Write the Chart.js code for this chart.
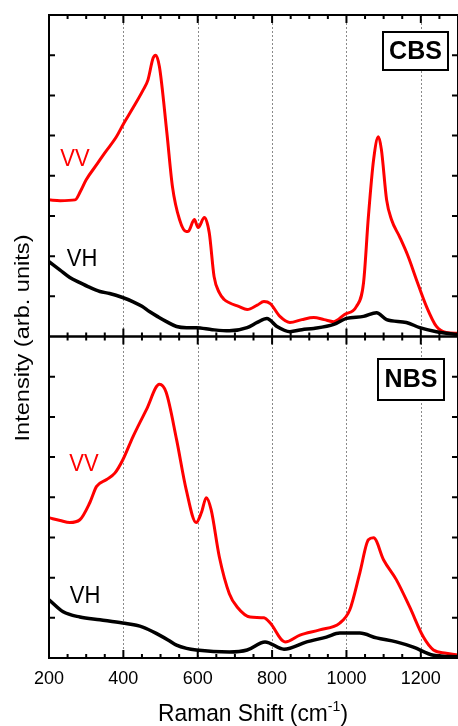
<!DOCTYPE html>
<html>
<head>
<meta charset="utf-8">
<script src="https://cdn.jsdelivr.net/npm/chart.js@4/dist/chart.umd.min.js"></script>
<style>
  html, body { margin: 0; padding: 0; background: #ffffff; overflow: hidden; }
  #wrap { position: relative; width: 458px; height: 726px; }
</style>
</head>
<body>
<div id="wrap"><canvas id="raman" width="458" height="726"></canvas></div>
<script>
(function () {

// -------------------------------------------------------------------------------------------------------
// data (intensity in arb. units, 0..8 per panel)

var cbsVVShift = [200, 230, 270, 285, 300, 330, 350, 380, 399, 426, 453, 466, 480, 487, 497, 517, 532, 551, 569, 575, 591, 601, 618, 631, 644, 658, 671, 685, 710, 733, 760, 778, 795, 821, 848, 880, 912, 940, 966, 995, 1027, 1046, 1059, 1073, 1086, 1094, 1108, 1121, 1143, 1166, 1188, 1215, 1242, 1268, 1300];
var cbsVV      = [3.40, 3.38, 3.40, 3.62, 3.90, 4.30, 4.57, 4.95, 5.27, 5.69, 6.13, 6.38, 6.93, 7.00, 6.71, 5.07, 3.73, 2.91, 2.61, 2.62, 2.91, 2.71, 2.96, 2.58, 1.49, 1.09, 0.92, 0.84, 0.75, 0.67, 0.78, 0.87, 0.82, 0.50, 0.35, 0.42, 0.47, 0.42, 0.37, 0.55, 0.75, 1.34, 2.98, 4.40, 4.97, 4.65, 3.40, 2.91, 2.48, 1.99, 1.42, 0.75, 0.25, 0.10, 0.08];

var cbsVHShift = [200, 229, 256, 283, 310, 337, 363, 398, 425, 450, 470, 495, 516, 543, 570, 596, 639, 685, 733, 760, 786, 813, 848, 880, 912, 966, 1000, 1046, 1081, 1108, 1161, 1197, 1242, 1300];
var cbsVH      = [1.86, 1.66, 1.47, 1.34, 1.22, 1.12, 1.07, 0.97, 0.87, 0.75, 0.62, 0.48, 0.37, 0.25, 0.22, 0.22, 0.17, 0.14, 0.22, 0.35, 0.45, 0.25, 0.12, 0.17, 0.20, 0.30, 0.45, 0.50, 0.59, 0.42, 0.35, 0.22, 0.12, 0.05];

var nbsVVShift = [200, 230, 256, 283, 310, 328, 355, 377, 399, 426, 462, 497, 515, 543, 569, 596, 610, 623, 636, 658, 685, 706, 741, 778, 795, 835, 875, 928, 982, 1009, 1036, 1059, 1073, 1100, 1134, 1170, 1207, 1234, 1268, 1300];
var nbsVV      = [3.49, 3.42, 3.37, 3.44, 3.87, 4.27, 4.44, 4.60, 4.94, 5.51, 6.18, 6.81, 6.61, 5.44, 4.19, 3.37, 3.62, 3.99, 3.69, 2.52, 1.60, 1.27, 1.02, 1.00, 0.87, 0.40, 0.57, 0.70, 0.87, 1.20, 2.12, 2.94, 2.99, 2.44, 1.95, 1.27, 0.52, 0.20, 0.12, 0.07];

var nbsVHShift = [200, 238, 283, 337, 398, 452, 497, 520, 543, 570, 596, 685, 733, 781, 832, 893, 946, 982, 1036, 1081, 1134, 1180, 1234, 1300];
var nbsVH      = [1.45, 1.15, 1.02, 0.95, 0.87, 0.77, 0.57, 0.45, 0.32, 0.24, 0.20, 0.15, 0.20, 0.40, 0.22, 0.40, 0.52, 0.62, 0.62, 0.50, 0.40, 0.27, 0.07, 0.03];

var tickShifts = [200, 400, 600, 800, 1000, 1200];
var gridShifts = [400, 600, 800, 1000, 1200];

// -------------------------------------------------------------------------------------------------------

function pts(xs, ys) {
    var out = [];
    for (var i = 0; i < xs.length; i++) out.push({ x: xs[i], y: ys[i] });
    return out;
}

function line(data, color, axis, width) {
    return {
        data: data,
        yAxisID: axis,
        borderColor: color,
        borderWidth: width,
        pointRadius: 0,
        fill: false,
        cubicInterpolationMode: 'monotone'
    };
}

function text(ctx, str, x, y, font, color, sx, sy) {
    ctx.save();
    ctx.font = font;
    ctx.fillStyle = color;
    ctx.textAlign = 'center';
    ctx.textBaseline = 'middle';
    ctx.translate(x, y);
    ctx.scale(sx || 1, sy || 1);
    ctx.fillText(str, 0, 0);
    ctx.restore();
}

// panel frames, inward ticks, dotted grid, labels
var decor = {
    id: 'decor',
    beforeDatasetsDraw: function (chart) {
        var ctx = chart.ctx, xs = chart.scales.x, a = chart.chartArea;
        ctx.save();
        ctx.strokeStyle = '#8a8a8a';
        ctx.lineWidth = 1;
        ctx.setLineDash([2, 2]);
        gridShifts.forEach(function (v) {
            var px = Math.round(xs.getPixelForValue(v)) + 0.5;
            ctx.beginPath();
            ctx.moveTo(px, a.top);
            ctx.lineTo(px, a.bottom);
            ctx.stroke();
        });
        ctx.restore();
    },
    afterDatasetsDraw: function (chart) {
        var ctx = chart.ctx, xs = chart.scales.x, a = chart.chartArea;
        ctx.save();
        ctx.strokeStyle = '#000';
        ctx.lineWidth = 2;
        ['yCBS', 'yNBS'].forEach(function (id) {
            var ys = chart.scales[id];
            var t = ys.top, b = ys.bottom;
            ctx.strokeRect(a.left, t, a.right - a.left, b - t);
            ctx.beginPath();
            for (var v = 1; v < 8; v++) {
                var py = ys.getPixelForValue(v);
                ctx.moveTo(a.left, py); ctx.lineTo(a.left + 6, py);
                ctx.moveTo(a.right, py); ctx.lineTo(a.right - 6, py);
            }
            for (var s = 250; s < 1300; s += 50) {
                var px = xs.getPixelForValue(s);
                var len = (s % 200 === 0) ? 8 : 4;
                ctx.moveTo(px, t); ctx.lineTo(px, t + len);
                ctx.moveTo(px, b); ctx.lineTo(px, b - len);
            }
            ctx.stroke();
        });
        ctx.restore();

        // sample boxes
        ctx.save();
        ctx.fillStyle = '#fff';
        ctx.strokeStyle = '#000';
        ctx.lineWidth = 2;
        ctx.fillRect(383, 32, 65, 38); ctx.strokeRect(383, 32, 65, 38);
        ctx.fillRect(378, 359, 66, 41); ctx.strokeRect(378, 359, 66, 41);
        ctx.restore();
        text(ctx, 'CBS', 415.5, 52, 'bold 25px "Liberation Sans", Arial, sans-serif', '#000');
        text(ctx, 'NBS', 411, 380, 'bold 25px "Liberation Sans", Arial, sans-serif', '#000');

        // polarisation labels
        var lf = '22px "Liberation Sans", Arial, sans-serif';
        text(ctx, 'VV', 75, 159, lf, '#ff0000', 1, 1.1);
        text(ctx, 'VH', 82, 259, lf, '#000', 1, 1.1);
        text(ctx, 'VV', 84, 464, lf, '#ff0000', 1, 1.1);
        text(ctx, 'VH', 85, 596, lf, '#000', 1, 1.1);

        // axis titles
        ctx.save();
        ctx.font = '21px "Liberation Sans", Arial, sans-serif';
        ctx.fillStyle = '#000';
        ctx.textAlign = 'center';
        ctx.textBaseline = 'middle';
        var yt = 'Intensity (arb. units)';
        var w = ctx.measureText(yt).width;
        ctx.translate(23, 338);
        ctx.rotate(-Math.PI / 2);
        ctx.scale(207 / w, 1);
        ctx.fillText(yt, 0, 0);
        ctx.restore();

        ctx.save();
        ctx.fillStyle = '#000';
        ctx.textBaseline = 'alphabetic';
        ctx.textAlign = 'left';
        var big = '21px "Liberation Sans", Arial, sans-serif';
        var small = '13px "Liberation Sans", Arial, sans-serif';
        ctx.font = big;
        var p1 = 'Raman Shift (cm', p3 = ')';
        var w1 = ctx.measureText(p1).width, w3 = ctx.measureText(p3).width;
        ctx.font = small;
        var w2 = ctx.measureText('-1').width;
        var total = w1 + w2 + w3;
        ctx.translate(253, 721);
        ctx.scale(190 / total, 1.15);
        var x0 = -total / 2;
        ctx.font = big; ctx.fillText(p1, x0, 0);
        ctx.font = small; ctx.fillText('-1', x0 + w1, -9);
        ctx.font = big; ctx.fillText(p3, x0 + w1 + w2, 0);
        ctx.restore();
    }
};

// -------------------------------------------------------------------------------------------------------

var ctx = document.getElementById('raman').getContext('2d');

new Chart(ctx, {
    type: 'line',
    data: {
        datasets: [
            line(pts(cbsVHShift, cbsVH), '#000000', 'yCBS', 3.5),
            line(pts(cbsVVShift, cbsVV), '#ff0000', 'yCBS', 3),
            line(pts(nbsVHShift, nbsVH), '#000000', 'yNBS', 3.5),
            line(pts(nbsVVShift, nbsVV), '#ff0000', 'yNBS', 3)
        ]
    },
    options: {
        responsive: false,
        animation: false,
        devicePixelRatio: 1,
        layout: { padding: { top: 15, right: 0, left: 0, bottom: 0 }, autoPadding: false },
        plugins: { legend: { display: false }, tooltip: { enabled: false } },
        scales: {
            x: {
                type: 'linear',
                min: 200,
                max: 1300,
                grid: { display: false, drawTicks: false },
                border: { display: false },
                ticks: {
                    padding: 10,
                    color: '#000',
                    maxRotation: 0,
                    autoSkip: false,
                    font: { family: '"Liberation Sans", Arial, sans-serif', size: 18 },
                    callback: function (v) { return String(v); }
                },
                afterBuildTicks: function (s) {
                    s.ticks = tickShifts.map(function (v) { return { value: v }; });
                },
                afterFit: function (s) { s.height = 68; s.paddingLeft = 0; s.paddingRight = 0; }
            },
            yNBS: {
                type: 'linear',
                position: 'left',
                stack: 'panels',
                stackWeight: 1,
                min: 0,
                max: 8,
                grid: { display: false, drawTicks: false },
                border: { display: false },
                ticks: { display: false },
                afterFit: function (s) { s.width = 49; }
            },
            yCBS: {
                type: 'linear',
                position: 'left',
                stack: 'panels',
                stackWeight: 1,
                min: 0,
                max: 8,
                grid: { display: false, drawTicks: false },
                border: { display: false },
                ticks: { display: false },
                afterFit: function (s) { s.width = 49; }
            }
        }
    },
    plugins: [decor]
});

})();
</script>
</body>
</html>
